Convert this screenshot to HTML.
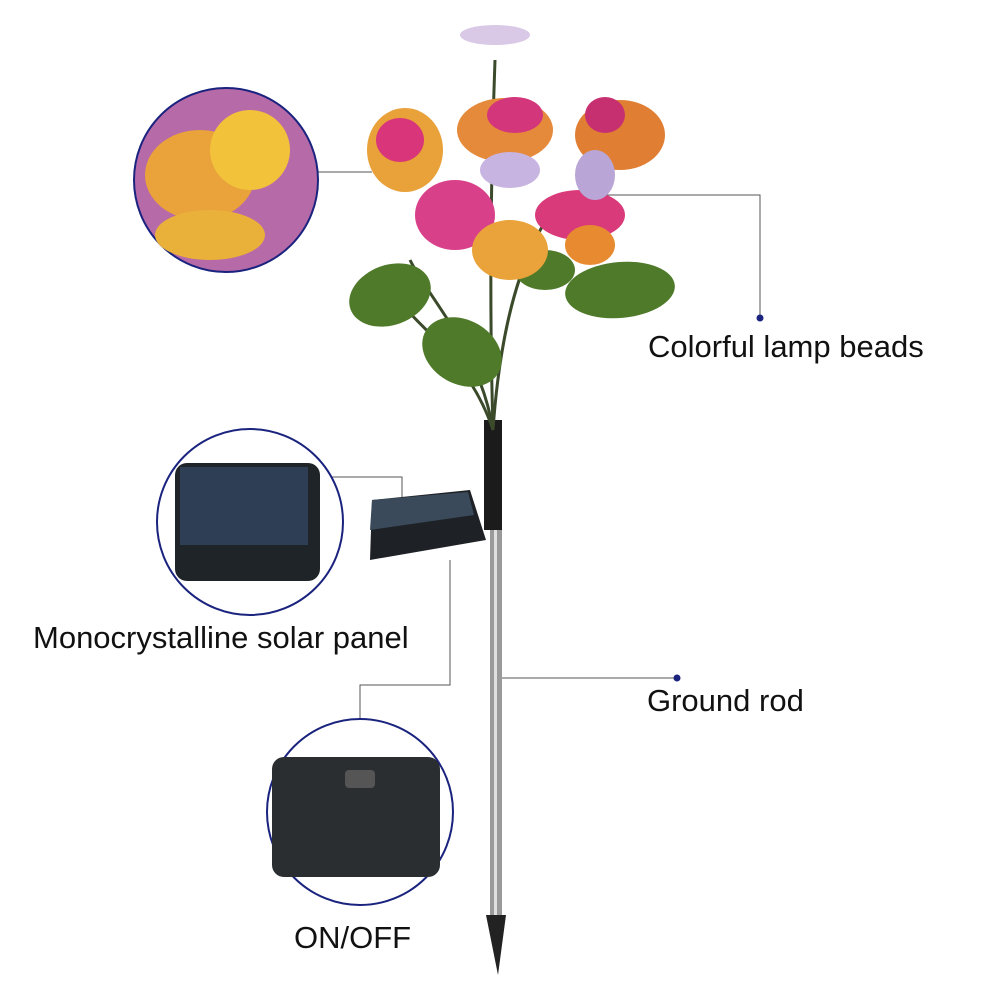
<!DOCTYPE html>
<html><head><meta charset="utf-8"><style>
html,body{margin:0;padding:0;background:#fff;width:1001px;height:1001px;overflow:hidden}
svg{display:block}
text{font-family:"Liberation Sans",sans-serif;fill:#111}
</style></head><body>
<svg width="1001" height="1001" viewBox="0 0 1001 1001">
<g stroke="#555" stroke-width="1" fill="none">
<polyline points="318,172 372,172"/>
<polyline points="590,195 760,195 760,318"/>
<polyline points="262,477 402,477 402,515"/>
<polyline points="450,560 450,685 360,685 360,720"/>
<polyline points="500,678 677,678"/>
</g>
<circle cx="760" cy="318" r="3.5" fill="#1a237e"/>
<circle cx="677" cy="678" r="3.5" fill="#1a237e"/>
<circle cx="262" cy="477" r="3" fill="#1a237e"/>
<rect x="490" y="520" width="12" height="400" fill="#9a9a9a"/>
<rect x="494" y="520" width="3" height="400" fill="#e0e0e0"/>
<polygon points="486,915 506,915 498,975" fill="#222"/>
<rect x="484" y="420" width="18" height="110" fill="#1b1b1b"/>
<g stroke="#3a4a2a" stroke-width="3" fill="none">
<path d="M493,430 C480,350 430,300 410,260"/><path d="M493,430 C500,330 520,250 560,200"/>
<path d="M493,430 C490,330 490,200 495,60"/><path d="M493,430 C470,360 420,330 390,290"/>
</g>
<g fill="#4f7a2a">
<ellipse cx="390" cy="295" rx="42" ry="30" transform="rotate(-20 390 295)"/>
<ellipse cx="462" cy="352" rx="42" ry="32" transform="rotate(30 462 352)"/>
<ellipse cx="620" cy="290" rx="55" ry="28" transform="rotate(-5 620 290)"/>
<ellipse cx="545" cy="270" rx="30" ry="20"/>
</g>
<g>
<ellipse cx="405" cy="150" rx="38" ry="42" fill="#e9a13a"/>
<ellipse cx="400" cy="140" rx="24" ry="22" fill="#d9357a"/>
<ellipse cx="505" cy="130" rx="48" ry="32" fill="#e58a3a"/>
<ellipse cx="515" cy="115" rx="28" ry="18" fill="#d4367c"/>
<ellipse cx="620" cy="135" rx="45" ry="35" fill="#e07f33"/>
<ellipse cx="605" cy="115" rx="20" ry="18" fill="#c73070"/>
<ellipse cx="455" cy="215" rx="40" ry="35" fill="#d9408a"/>
<ellipse cx="510" cy="250" rx="38" ry="30" fill="#e9a33a"/>
<ellipse cx="580" cy="215" rx="45" ry="25" fill="#d93a7a"/>
<ellipse cx="595" cy="175" rx="20" ry="25" fill="#b9a6d6"/>
<ellipse cx="510" cy="170" rx="30" ry="18" fill="#c8b4e0"/>
<ellipse cx="590" cy="245" rx="25" ry="20" fill="#e88a30"/>
<ellipse cx="495" cy="35" rx="35" ry="10" fill="#d9c8e6"/>
</g>
<polygon points="372,500 470,490 486,540 370,560" fill="#1e2226"/>
<polygon points="372,500 468,492 474,515 370,530" fill="#3a4a5a"/>
<g stroke="#1a237e" stroke-width="2">
<circle cx="226" cy="180" r="92" fill="#b76aa8"/>
<circle cx="250" cy="522" r="93" fill="#fff"/>
<circle cx="360" cy="812" r="93" fill="#fff"/>
</g>
<ellipse cx="200" cy="175" rx="55" ry="45" fill="#e9a33a"/>
<ellipse cx="250" cy="150" rx="40" ry="40" fill="#f2c23a"/>
<ellipse cx="210" cy="235" rx="55" ry="25" fill="#e9b03a"/>
<rect x="175" y="463" width="145" height="118" rx="12" fill="#1f2428"/>
<rect x="180" y="467" width="128" height="78" fill="#2e3e55"/>
<rect x="272" y="757" width="168" height="120" rx="12" fill="#2a2e31"/>
<rect x="345" y="770" width="30" height="18" rx="4" fill="#555"/>
<text x="648" y="357" font-size="31">Colorful lamp beads</text>
<text x="33" y="648" font-size="31">Monocrystalline solar panel</text>
<text x="647" y="711" font-size="31">Ground rod</text>
<text x="294" y="948" font-size="31">ON/OFF</text>
</svg>
</body></html>
